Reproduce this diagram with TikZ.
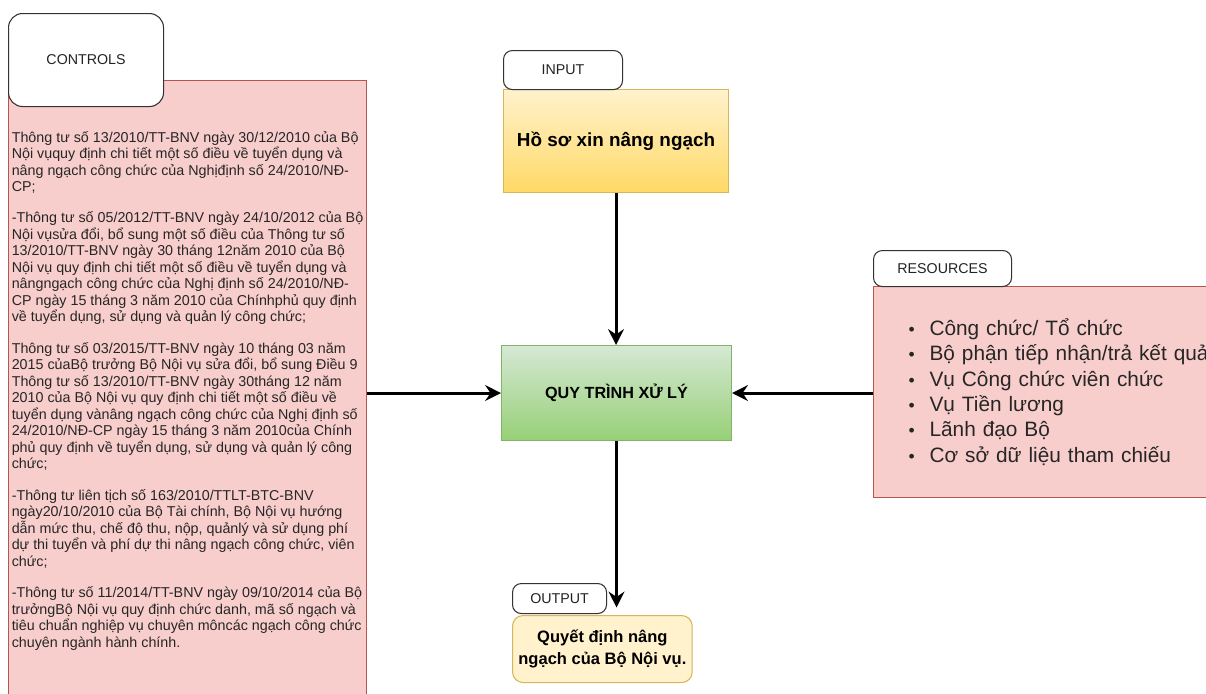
\documentclass[tikz,border=0pt]{standalone}
\usepackage{fontspec}
\setmainfont{Liberation Sans}
\usetikzlibrary{arrows.meta}
\definecolor{pinkfill}{HTML}{F8CECC}
\definecolor{pinkline}{HTML}{B85450}
\definecolor{yellowtop}{HTML}{FFF2CC}
\definecolor{yellowbot}{HTML}{FFD966}
\definecolor{yellowline}{HTML}{D6B656}
\definecolor{greentop}{HTML}{D5E8D4}
\definecolor{greenbot}{HTML}{97D077}
\definecolor{greenline}{HTML}{82B366}
\definecolor{labeltext}{HTML}{222222}
\newcommand{\resitem}{\makebox[0.42cm][l]{\fontsize{10}{10}\selectfont\textbullet}}

\begin{document}
\begin{tikzpicture}[>={Stealth[length=9pt,width=9pt,inset=3pt]},
  labelbox/.style={draw=black!80,fill=white,rounded corners=5pt,line width=0.6pt,
    anchor=north west,inner sep=0pt,text=labeltext,font=\fontsize{8.1}{9.7}\selectfont},
  pinkbox/.style={draw=pinkline,fill=pinkfill,line width=0.6pt,anchor=north west},
  flow/.style={->,line width=1.7pt}]
\useasboundingbox (0,0) rectangle (24.12,-13.88);
\clip (0,0) rectangle (24.12,-13.88);

% controls column
\node[pinkbox,inner sep=0pt,minimum width=7.16cm,minimum height=12.4cm,align=left,
  text=black!85,font=\fontsize{8.14}{9.4}\selectfont] (C) at (0.16,-1.6) {%
Thông tư số 13/2010/TT-BNV ngày 30/12/2010 của Bộ\\
Nội vụquy định chi tiết một số điều về tuyển dụng và\\
nâng ngạch công chức của Nghịđịnh số 24/2010/NĐ-\\
CP;\\[8.4pt]
-Thông tư số 05/2012/TT-BNV ngày 24/10/2012 của Bộ\\
Nội vụsửa đổi, bổ sung một số điều của Thông tư số\\
13/2010/TT-BNV ngày 30 tháng 12năm 2010 của Bộ\\
Nội vụ quy định chi tiết một số điều về tuyển dụng và\\
nângngạch công chức của Nghị định số 24/2010/NĐ-\\
CP ngày 15 tháng 3 năm 2010 của Chínhphủ quy định\\
về tuyển dụng, sử dụng và quản lý công chức;\\[8.4pt]
Thông tư số 03/2015/TT-BNV ngày 10 tháng 03 năm\\
2015 củaBộ trưởng Bộ Nội vụ sửa đổi, bổ sung Điều 9\\
Thông tư số 13/2010/TT-BNV ngày 30tháng 12 năm\\
2010 của Bộ Nội vụ quy định chi tiết một số điều về\\
tuyển dụng vànâng ngạch công chức của Nghị định số\\
24/2010/NĐ-CP ngày 15 tháng 3 năm 2010của Chính\\
phủ quy định về tuyển dụng, sử dụng và quản lý công\\
chức;\\[8.4pt]
-Thông tư liên tịch số 163/2010/TTLT-BTC-BNV\\
ngày20/10/2010 của Bộ Tài chính, Bộ Nội vụ hướng\\
dẫn mức thu, chế độ thu, nộp, quảnlý và sử dụng phí\\
dự thi tuyển và phí dự thi nâng ngạch công chức, viên\\
chức;\\[8.4pt]
-Thông tư số 11/2014/TT-BNV ngày 09/10/2014 của Bộ\\
trưởngBộ Nội vụ quy định chức danh, mã số ngạch và\\
tiêu chuẩn nghiệp vụ chuyên môncác ngạch công chức\\
chuyên ngành hành chính.};
\node[labelbox,rounded corners=8pt,minimum width=3.1cm,minimum height=1.86cm] (CL) at (0.16,-0.26) {CONTROLS};

% input
\node[draw=yellowline,top color=yellowtop,bottom color=yellowbot,line width=0.6pt,anchor=north west,
  minimum width=4.5cm,minimum height=2.06cm,font=\bfseries\fontsize{10.75}{12}\selectfont] (I) at (10.06,-1.78) {Hồ sơ xin nâng ngạch};
\node[labelbox,minimum width=2.38cm,minimum height=0.78cm] (IL) at (10.06,-1.0) {INPUT};

% process
\node[draw=greenline,top color=greentop,bottom color=greenbot,line width=0.6pt,anchor=north west,
  minimum width=4.6cm,minimum height=1.9cm,font=\bfseries\fontsize{9.2}{11}\selectfont] (P) at (10.02,-6.9) {QUY TRÌNH XỬ LÝ};

% resources
\node[pinkbox,inner xsep=0.7cm,inner ysep=0pt,text width=7.1cm,minimum height=4.22cm,align=left,
  text=black!85,font=\fontsize{11.85}{14.4}\selectfont] (R) at (17.46,-5.72) {%
\resitem Công chức/ Tổ chức\\
\resitem Bộ phận tiếp nhận/trả kết quả\\
\resitem Vụ Công chức viên chức\\
\resitem Vụ Tiền lương\\
\resitem Lãnh đạo Bộ\\
\resitem Cơ sở dữ liệu tham chiếu};
\node[labelbox,minimum width=2.76cm,minimum height=0.72cm] (RL) at (17.46,-5.0) {RESOURCES};

% output
\node[draw=yellowline,fill=yellowtop,rounded corners=6pt,line width=0.6pt,anchor=north west,
  minimum width=3.56cm,minimum height=1.34cm,align=center,
  font=\bfseries\fontsize{9.4}{12.5}\selectfont] (O) at (10.24,-12.3) {Quyết định nâng\\ngạch của Bộ Nội vụ.};
\node[labelbox,minimum width=1.88cm,minimum height=0.6cm] (OL) at (10.24,-11.66) {OUTPUT};

\draw[flow] (I.south) -- (I.south |- P.north);
\draw[flow] (C.east |- P.west) -- (P.west);
\draw[flow] (R.west |- P.east) -- (P.east);
\draw[flow] (P.south) -- ([yshift=0.15cm]P.south |- O.north);
\end{tikzpicture}
\end{document}
